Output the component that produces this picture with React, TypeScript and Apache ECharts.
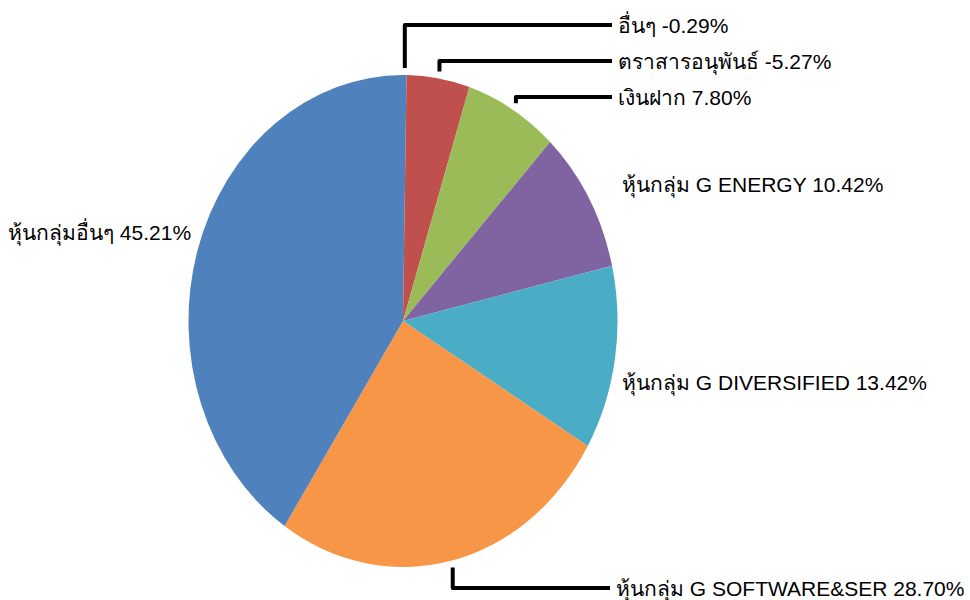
import React, { useEffect, useRef } from 'react';
import * as echarts from 'echarts';

// ---- data ----
const names = [
  'อื่นๆ',
  'ตราสารอนุพันธ์',
  'เงินฝาก',
  'หุ้นกลุ่ม G ENERGY',
  'หุ้นกลุ่ม G DIVERSIFIED',
  'หุ้นกลุ่ม G SOFTWARE&SER',
  'หุ้นกลุ่มอื่นๆ',
];
const percents = [-0.29, -5.27, 7.8, 10.42, 13.42, 28.7, 45.21];
const colors = ['#4F81BD', '#C0504D', '#9BBB59', '#8064A2', '#4BACC6', '#F79646', '#4F81BD'];
const showLine = [true, true, true, false, false, true, false];

// ---- layout ----
const W = 970;
const H = 600;
const CX = 403;
const CY = 321;
const R = 246;
const SX = 0.872; // horizontal squash of the pie (elliptical in reference)
const labelAnchors: number[][] = [
  [618, 25],
  [618, 61],
  [618, 97],
  [622, 184],
  [622, 382],
  [616, 588],
  [8, 232],
];
const FONT = "'Liberation Sans', Arial, 'Noto Sans', sans-serif";

function buildData(withLines: boolean, transparent: boolean) {
  return names.map((n, i) => ({
    name: n,
    value: Math.abs(percents[i]),
    itemStyle: { color: transparent ? 'rgba(0,0,0,0)' : colors[i] },
    labelLine: { show: withLines && showLine[i] },
  }));
}

export default function App() {
  const aRef = useRef<HTMLDivElement>(null);
  const bRef = useRef<HTMLDivElement>(null);

  useEffect(() => {
    const a = echarts.init(aRef.current!, null, { renderer: 'svg' });
    const b = echarts.init(bRef.current!, null, { renderer: 'svg' });

    a.setOption({
      animation: false,
      series: [
        {
          type: 'pie',
          silent: true,
          center: [CX / SX, CY],
          radius: R,
          startAngle: 90,
          clockwise: true,
          avoidLabelOverlap: false,
          label: { show: false },
          labelLine: { show: false },
          itemStyle: { borderWidth: 0 },
          data: buildData(false, false),
        },
      ],
    });

    b.setOption({
      animation: false,
      series: [
        {
          type: 'pie',
          silent: true,
          center: [CX, CY],
          radius: R,
          startAngle: 90,
          clockwise: true,
          avoidLabelOverlap: false,
          itemStyle: { borderWidth: 0 },
          label: {
            show: true,
            position: 'outside',
            color: '#000',
            fontFamily: FONT,
            fontSize: 21,
            formatter: (p: any) =>
              names[p.dataIndex] + ' ' + percents[p.dataIndex].toFixed(2) + '%',
          },
          labelLine: {
            show: true,
            length: 10,
            length2: 10,
            lineStyle: { color: '#000', width: 4, join: 'round', cap: 'butt' },
          },
          labelLayout: (p: any) => {
            const i = p.dataIndex;
            const [lx, ly] = labelAnchors[i];
            const res: any = { x: lx, y: ly, align: 'left', verticalAlign: 'middle' };
            if (showLine[i]) {
              const pts = p.labelLinePoints;
              const px = pts ? pts[0][0] : CX;
              const py = pts ? pts[0][1] : CY - R;
              const len = Math.hypot(px - CX, py - CY) || 1;
              const dx = (px - CX) / len;
              const dy = (py - CY) / len;
              const sx = CX + dx * R * SX + dx * 7;
              const sy = CY + dy * R + dy * 7;
              res.labelLinePoints = [
                [sx, sy],
                [sx, ly],
                [lx - 6, ly],
              ];
            }
            return res;
          },
          data: buildData(true, true),
        },
      ],
    });

    return () => {
      a.dispose();
      b.dispose();
    };
  }, []);

  return (
    <div
      style={{
        position: 'fixed',
        left: 0,
        top: 0,
        width: W,
        height: H,
        background: '#fff',
        overflow: 'hidden',
      }}
    >
      <div
        ref={aRef}
        style={{
          position: 'absolute',
          left: 0,
          top: 0,
          width: Math.round(W / SX),
          height: H,
          transform: `scaleX(${SX})`,
          transformOrigin: '0 0',
        }}
      />
      <div ref={bRef} style={{ position: 'absolute', left: 0, top: 0, width: W, height: H }} />
    </div>
  );
}
